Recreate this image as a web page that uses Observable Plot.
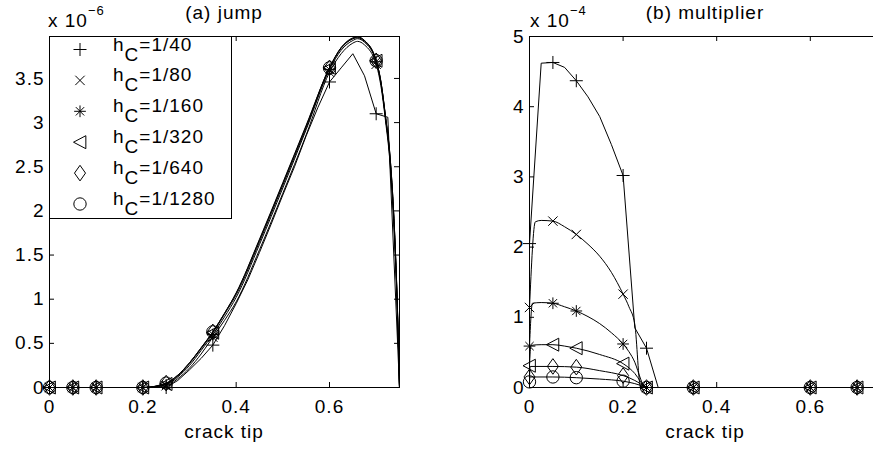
<!DOCTYPE html>
<html><head><meta charset="utf-8">
<script src="https://cdn.jsdelivr.net/npm/d3@7"></script>
<script src="https://cdn.jsdelivr.net/npm/@observablehq/plot@0.6"></script>
<style>
html,body{margin:0;padding:0;background:#fff;overflow:hidden;width:873px;height:451px;}
#wrap{position:relative;width:873px;height:451px;overflow:hidden;background:#fff;}
#wrap > *{position:absolute;top:0;}
</style></head><body><div id="wrap"></div>
<script>
const FONT = "'Liberation Sans', Arial, Helvetica, sans-serif";
const seriesLabels = ["1/40", "1/80", "1/160", "1/320", "1/640", "1/1280"];
const markerX = [0, 0.05, 0.1, 0.2, 0.25, 0.35, 0.6, 0.7];
const xTicks = [0, 0.2, 0.4, 0.6];
const jumpTicks = [0, 0.5, 1, 1.5, 2, 2.5, 3, 3.5];
const multTicks = [0, 1, 2, 3, 4, 5];

// (a) jump, in units of 1e-6
const jumpX40 = [0,0.025,0.05,0.075,0.1,0.125,0.15,0.175,0.2,0.225,0.25,0.275,0.3,0.325,0.35,0.375,0.4,0.425,0.45,0.475,0.5,0.525,0.55,0.575,0.6,0.625,0.65,0.675,0.7,0.725,0.75];
const jump40   = [0,0,0,0,0,0,0,0,0,0,0,0.08,0.2,0.33,0.48,0.7,0.95,1.22,1.53,1.85,2.18,2.5,2.85,3.17,3.46,3.62,3.78,3.53,3.1,3.06,0];
const jumpXfine = [0,0.05,0.1,0.2,0.25,0.275,0.3,0.325,0.35,0.375,0.4,0.45,0.5,0.55,0.6,0.625,0.65,0.66,0.675,0.7,0.71,0.72,0.73,0.74,0.745,0.75];
const jump80   = [0,0,0,0,0.02,0.1,0.22,0.38,0.57,0.76,0.97,1.56,2.2,2.86,3.57,3.78,3.9,3.92,3.88,3.66,3.42,3.02,2.52,1.6,0.93,0];
const jump160  = [0,0,0,0,0.03,0.12,0.25,0.42,0.6,0.8,1.02,1.62,2.26,2.92,3.6,3.82,3.93,3.95,3.91,3.69,3.45,3.05,2.56,1.65,0.96,0];
const jump320  = [0,0,0,0,0.04,0.13,0.27,0.44,0.62,0.83,1.05,1.65,2.29,2.94,3.62,3.84,3.95,3.96,3.92,3.7,3.46,3.06,2.58,1.68,0.98,0];
const jump640  = [0,0,0,0,0.05,0.14,0.28,0.45,0.63,0.84,1.07,1.67,2.31,2.96,3.62,3.85,3.95,3.97,3.93,3.7,3.47,3.07,2.6,1.7,1.0,0];
const jump1280 = [0,0,0,0,0.05,0.14,0.28,0.45,0.63,0.84,1.07,1.68,2.32,2.97,3.62,3.85,3.96,3.97,3.93,3.7,3.47,3.07,2.6,1.7,1.0,0];

// (b) multiplier, in units of 1e-4
const multX40 = [0,0.025,0.05,0.075,0.1,0.125,0.15,0.175,0.2,0.225,0.25,0.275,0.35,0.6,0.7,0.75];
const mult40  = [2.05,4.62,4.63,4.56,4.37,4.14,3.86,3.46,3.02,0.85,0.56,0,0,0,0,0];
const multX80 = [0,0.0125,0.025,0.05,0.075,0.1,0.125,0.15,0.175,0.2,0.2125,0.225,0.2375,0.25,0.35,0.6,0.7,0.75];
const mult80  = [1.14,2.36,2.38,2.37,2.29,2.18,2.04,1.87,1.64,1.33,1.15,0.9,0,0,0,0,0,0];
const multX160 = [0,0.00625,0.025,0.05,0.075,0.1,0.125,0.15,0.175,0.2,0.2125,0.225,0.2375,0.24375,0.25,0.35,0.6,0.7,0.75];
const mult160  = [0.59,1.2,1.21,1.2,1.15,1.09,1.01,0.91,0.78,0.62,0.51,0.36,0.12,0.02,0,0,0,0,0];
const multX320 = [0,0.003125,0.025,0.05,0.075,0.1,0.15,0.2,0.2125,0.225,0.2375,0.24375,0.25,0.35,0.6,0.7,0.75];
const mult320  = [0.31,0.6,0.61,0.61,0.59,0.56,0.47,0.34,0.28,0.2,0.08,0.02,0,0,0,0,0];
const multX640 = [0,0.0015625,0.05,0.1,0.15,0.2,0.2125,0.225,0.2375,0.245,0.25,0.35,0.6,0.7,0.75];
const mult640  = [0.15,0.3,0.3,0.29,0.24,0.17,0.14,0.1,0.05,0.01,0,0,0,0,0];
const multX1280 = [0,0.00078,0.05,0.1,0.15,0.2,0.2125,0.225,0.2375,0.245,0.25,0.35,0.6,0.7,0.75];
const mult1280  = [0.08,0.15,0.15,0.14,0.12,0.09,0.075,0.055,0.03,0.01,0,0,0,0,0];

// marker shapes (MATLAB-like)
const symPlus = {draw(c, s) { const r = Math.sqrt(s / Math.PI); c.moveTo(-r, 0); c.lineTo(r, 0); c.moveTo(0, -r); c.lineTo(0, r); }};
const symTimes = {draw(c, s) { const r = Math.sqrt(s / Math.PI) * 0.72; c.moveTo(-r, -r); c.lineTo(r, r); c.moveTo(-r, r); c.lineTo(r, -r); }};
const symAst = {draw(c, s) { const r = Math.sqrt(s / Math.PI); const a = r * 0.9, b = r * 0.64;
  c.moveTo(-a, 0); c.lineTo(a, 0); c.moveTo(0, -a); c.lineTo(0, a);
  c.moveTo(-b, -b); c.lineTo(b, b); c.moveTo(-b, b); c.lineTo(b, -b); }};
const symTriL = {draw(c, s) { const r = Math.sqrt(s / Math.PI); c.moveTo(-r, 0); c.lineTo(0.9 * r, -r); c.lineTo(0.9 * r, r); c.closePath(); }};
const symDiam = {draw(c, s) { const r = Math.sqrt(s / Math.PI); c.moveTo(0, -1.2 * r); c.lineTo(0.85 * r, 0); c.lineTo(0, 1.2 * r); c.lineTo(-0.85 * r, 0); c.closePath(); }};
const symCirc = {draw(c, s) { const r = Math.sqrt(s / Math.PI) * 0.95; c.moveTo(r, 0); c.arc(0, 0, r, 0, 2 * Math.PI); }};
const symbols = [symPlus, symTimes, symAst, symTriL, symDiam, symCirc];
const MR = 6.5;

function rows(xs, ys) { return xs.map((x, i) => ({x, y: ys[i]})); }
const jumpSeries = [rows(jumpX40, jump40), rows(jumpXfine, jump80), rows(jumpXfine, jump160),
  rows(jumpXfine, jump320), rows(jumpXfine, jump640), rows(jumpXfine, jump1280)];
const multSeries = [rows(multX40, mult40), rows(multX80, mult80), rows(multX160, mult160),
  rows(multX320, mult320), rows(multX640, mult640), rows(multX1280, mult1280)];

const H = 451, MT = 36, MB = 64, TL = 5;
const fmt = d => String(d);

function panel({width, marginLeft, marginRight, yDomain, yTicks, series}) {
  const plotW = width - marginLeft - marginRight, plotH = H - MT - MB;
  const marks = [
    Plot.frame({stroke: "black", strokeWidth: 1}),
    Plot.tickX(xTicks, {x: d => d, insetTop: plotH - TL, stroke: "black"}),
    Plot.tickX(xTicks, {x: d => d, insetBottom: plotH - TL, stroke: "black"}),
    Plot.tickY(yTicks, {y: d => d, insetRight: plotW - TL, stroke: "black"}),
    Plot.tickY(yTicks, {y: d => d, insetLeft: plotW - TL, stroke: "black"}),
    Plot.axisX({ticks: xTicks, tickSize: 0, tickPadding: 12, label: null, tickFormat: fmt}),
    Plot.axisY({ticks: yTicks, tickSize: 0, tickPadding: 5, label: null, tickFormat: fmt})
  ];
  series.forEach((data, i) => {
    marks.push(Plot.line(data, {x: "x", y: "y", stroke: "black", strokeWidth: 1,
      curve: i === 0 ? "linear" : "monotone-x"}));
  });
  series.forEach((data, i) => {
    marks.push(Plot.dot(data.filter(d => markerX.includes(d.x)), {x: "x", y: "y", r: MR,
      symbol: symbols[i], fill: "none", stroke: "black", strokeWidth: 1}));
  });
  return Plot.plot({
    width, height: H, marginLeft, marginRight, marginTop: MT, marginBottom: MB,
    x: {domain: [0, 0.75]}, y: {domain: yDomain},
    style: {fontFamily: FONT, fontSize: "19px", letterSpacing: "1px", color: "black", background: "transparent", overflow: "visible"},
    marks
  });
}

const wrap = document.getElementById("wrap");
const left = panel({width: 436, marginLeft: 49, marginRight: 37, yDomain: [0, 3.975], yTicks: jumpTicks, series: jumpSeries});
left.style.left = "0px";
wrap.appendChild(left);
const right = panel({width: 480, marginLeft: 93, marginRight: 36, yDomain: [0, 5], yTicks: multTicks, series: multSeries});
right.style.left = "436px";
wrap.appendChild(right);

// overlay: titles, exponents, x labels, legend
const svg = d3.create("svg").attr("width", 873).attr("height", 451)
  .style("left", "0px").style("pointer-events", "none")
  .attr("font-family", FONT).attr("font-size", 19).style("letter-spacing", "1px");
const titles = [{x: 224, t: "(a) jump"}, {x: 705, t: "(b) multiplier"}];
titles.forEach(d => svg.append("text").attr("x", d.x).attr("y", 19).attr("text-anchor", "middle").text(d.t));
[224, 705].forEach(x => svg.append("text").attr("x", x).attr("y", 438).attr("text-anchor", "middle").text("crack tip"));
const exps = [{x: 48, e: "\u22126"}, {x: 530, e: "\u22124"}];
exps.forEach(d => {
  const t = svg.append("text").attr("x", d.x).attr("y", 27).text("x 10");
  t.append("tspan").attr("dy", -12).attr("font-size", 13).text(d.e);
});
const lg = svg.append("g");
lg.append("rect").attr("x", 49.5).attr("y", 36.5).attr("width", 182).attr("height", 182)
  .attr("fill", "white").attr("stroke", "black");
seriesLabels.forEach((lab, i) => {
  const cy = 49.5 + i * 30.9;
  lg.append("path").attr("transform", `translate(80,${cy})`)
    .attr("d", d3.symbol(symbols[i], MR * MR * Math.PI)())
    .attr("fill", "none").attr("stroke", "black");
  const t = lg.append("text").attr("x", 113).attr("y", cy + 1).text("h");
  t.append("tspan").attr("dy", 10).text("C");
  t.append("tspan").attr("dy", -10).text("=" + lab);
});
wrap.appendChild(svg.node());
</script></body></html>
